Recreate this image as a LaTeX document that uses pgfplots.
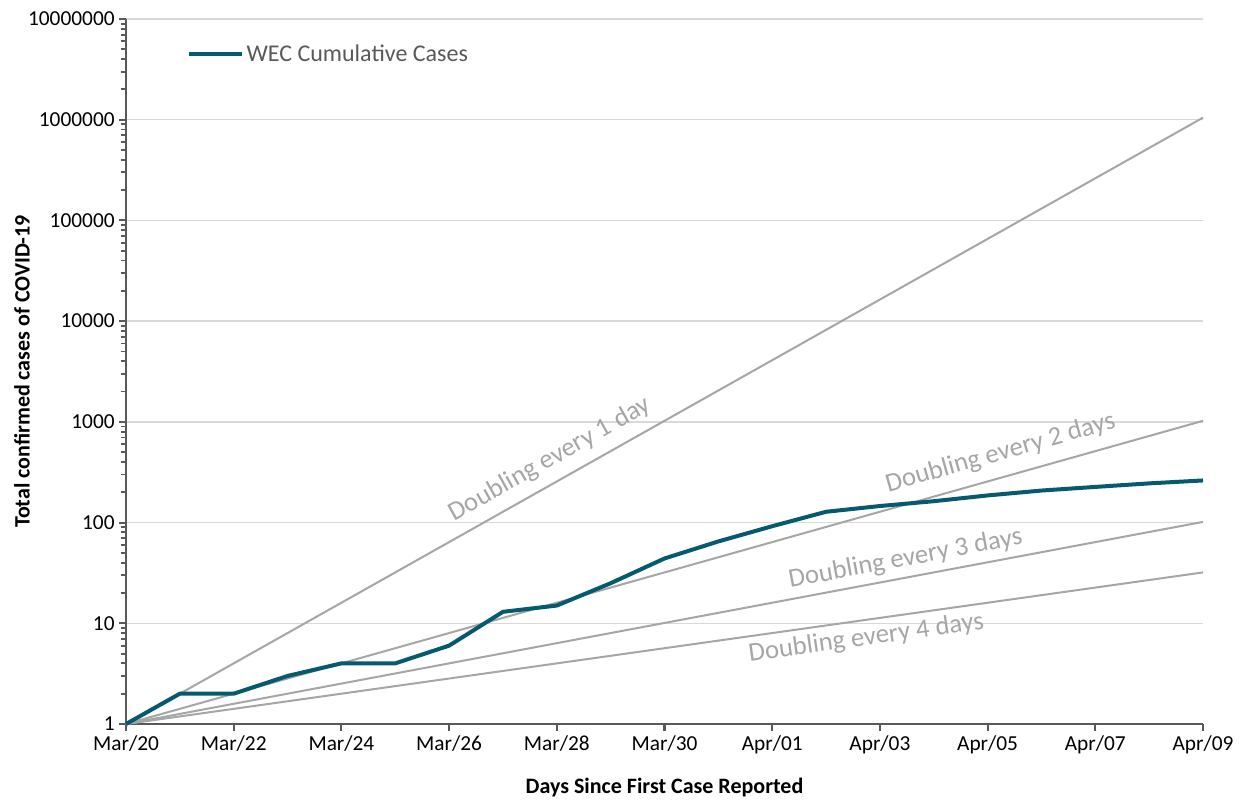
\documentclass[border=0pt]{standalone}
\usepackage{pgfplots}
\pgfplotsset{compat=1.18}
\usepackage{fontspec}
\setmainfont{Carlito}
\definecolor{wec}{HTML}{065A70}
\definecolor{dbl}{HTML}{A6A6A6}
\definecolor{axc}{HTML}{595959}
\definecolor{gridc}{HTML}{D9D9D9}
\begin{document}
\begin{tikzpicture}
\begin{axis}[
  scale only axis, width=807.75pt, height=528.75pt,
  ymode=log, ymin=1, ymax=1e7, xmin=0, xmax=20,
  axis x line*=bottom, axis y line*=left,
  axis line style={axc, line width=2.2pt, -},
  xtick={0,2,4,6,8,10,12,14,16,18,20},
  xticklabels={Mar/20,Mar/22,Mar/24,Mar/26,Mar/28,Mar/30,Apr/01,Apr/03,Apr/05,Apr/07,Apr/09},
  ytick={1,10,100,1000,10000,100000,1000000,10000000},
  yticklabels={1,10,100,1000,10000,100000,1000000,10000000},
  minor ytick={2,3,4,5,6,7,8,9,20,30,40,50,60,70,80,90,200,300,400,500,600,700,800,900,2000,3000,4000,5000,6000,7000,8000,9000,2e4,3e4,4e4,5e4,6e4,7e4,8e4,9e4,2e5,3e5,4e5,5e5,6e5,7e5,8e5,9e5,2e6,3e6,4e6,5e6,6e6,7e6,8e6,9e6},
  tick align=outside,
  major tick length=5pt, minor tick length=4pt,
  tick style={axc, line width=1.6pt},
  minor tick style={axc, line width=1.4pt},
  ymajorgrids,
  major grid style={gridc, line width=1pt},
  /pgf/number format/assume math mode=true,
  tick label style={font=\fontsize{16}{19}\selectfont, text=black},
  xlabel={\textbf{Days Since First Case Reported}},
  ylabel={\textbf{Total confirmed cases of COVID-19}},
  xlabel style={at={(axis description cs:0.5,-0.0894)}, anchor=center, font=\fontsize{16.5}{19}\selectfont},
  ylabel style={at={(axis description cs:-0.0966,0.5)}, anchor=center, font=\fontsize{16.5}{19}\selectfont},
  legend style={at={(axis description cs:0.056,0.95)}, anchor=west, draw=none, fill=none,
    font=\fontsize{18}{21}\selectfont, text=axc, inner sep=0pt},
  legend image code/.code={\draw[#1, line width=3pt] (0pt,0pt) -- (40pt,0pt);},
  clip=false,
]
\addplot[dbl, line width=1.5pt, forget plot] coordinates {(0,1) (20,1048576)}
  node[pos=0.404, sloped, above=4pt, text=dbl, font=\fontsize{20}{24}\selectfont] {Doubling every 1 day};
\addplot[dbl, line width=1.5pt, forget plot] coordinates {(0,1) (20,1024)}
  node[pos=0.818, sloped, above=5pt, text=dbl, font=\fontsize{20}{24}\selectfont] {Doubling every 2 days};
\addplot[dbl, line width=1.5pt, forget plot] coordinates {(0,1) (20,101.59)}
  node[pos=0.727, sloped, above=1pt, text=dbl, font=\fontsize{20}{24}\selectfont] {Doubling every 3 days};
\addplot[dbl, line width=1.5pt, forget plot] coordinates {(0,1) (20,32)}
  node[pos=0.685, sloped, below=1pt, text=dbl, font=\fontsize{20}{24}\selectfont] {Doubling every 4 days};
\addplot[wec, line width=3pt, line join=round] coordinates {
(0,1)(1,2)(2,2)(3,3)(4,4)(5,4)(6,6)(7,13)(8,15)(9,25)(10,44)(11,65)(12,92)(13,128)(14,146)(15,163)(16,186)(17,208)(18,226)(19,245)(20,262)};
\addlegendentry{WEC Cumulative Cases}
\coordinate (SW) at (rel axis cs:0,0);
\coordinate (NE) at (rel axis cs:1,1);
\end{axis}
\pgfresetboundingbox
\path[use as bounding box] ([shift={(-94.5pt,-60pt)}]SW) rectangle ([shift={(27.75pt,14.25pt)}]NE);
\end{tikzpicture}
\end{document}
